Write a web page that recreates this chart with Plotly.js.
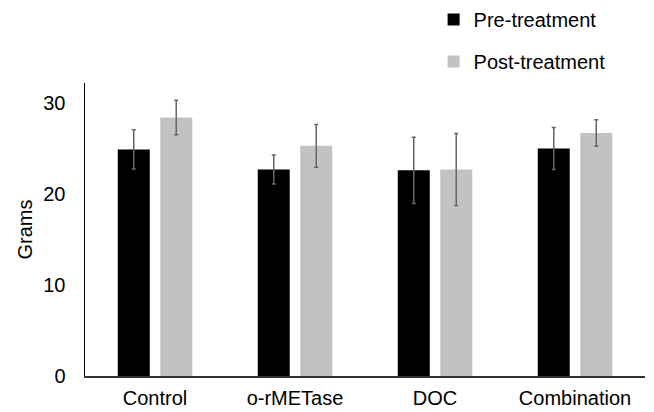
<!DOCTYPE html>
<html>
<head>
<meta charset="utf-8">
<script src="https://cdn.plot.ly/plotly-3.0.1.min.js"></script>
<style>html,body{margin:0;padding:0;background:#fff;}#chart{width:654px;height:412px;}</style>
</head>
<body>
<div id="chart"></div>
<script>
const categories = ["Control", "o-rMETase", "DOC", "Combination"];
const preValues = [24.9, 22.7, 22.6, 25.0];
const preErrors = [2.15, 1.6, 3.65, 2.3];
const postValues = [28.4, 25.3, 22.7, 26.7];
const postErrors = [1.9, 2.35, 3.95, 1.45];
const seriesNames = ["Pre-treatment", "Post-treatment"];
const yTicks = [0, 10, 20, 30];

const font = "Liberation Sans, Arial, Helvetica, sans-serif";

const traces = [
  {
    type: "bar", name: seriesNames[0], x: categories, y: preValues,
    legendgroup: "a",
    marker: {color: "#000000", line: {color: "#000000", width: 0}},
    error_y: {type: "data", array: preErrors, visible: true, color: "#666666", thickness: 1.5, width: 2}
  },
  {
    type: "bar", name: seriesNames[1], x: categories, y: postValues,
    legendgroup: "b",
    marker: {color: "#c2c2c2", line: {color: "#c2c2c2", width: 0}},
    error_y: {type: "data", array: postErrors, visible: true, color: "#666666", thickness: 1.5, width: 2}
  }
];

const layout = {
  width: 654, height: 412,
  paper_bgcolor: "#ffffff", plot_bgcolor: "#ffffff",
  margin: {l: 85, r: 9, t: 83, b: 36, autoexpand: false},
  barmode: "group",
  bargap: 0.393,
  bargroupgap: 0.247,
  showlegend: true,
  legend: {
    x: 0.6225, xanchor: "left", y: 1.283, yanchor: "top",
    traceorder: "grouped", tracegroupgap: 13,
    font: {family: font, size: 20, color: "#000"},
    bgcolor: "rgba(0,0,0,0)"
  },
  font: {family: font, size: 20, color: "#000"},
  xaxis: {
    type: "category", range: [-0.5, 3.5],
    showline: true, linecolor: "#333333", linewidth: 2,
    ticks: "", showgrid: false, zeroline: false,
    tickfont: {family: font, size: 20, color: "#000"},
    ticklabelstandoff: 3
  },
  yaxis: {
    range: [0, 32.2],
    tickvals: yTicks, ticktext: yTicks.map(String),
    showline: true, linecolor: "#000000", linewidth: 1.5,
    ticks: "", showgrid: false, zeroline: false,
    tickfont: {family: font, size: 20, color: "#000"},
    ticklabelstandoff: 14,
    title: {text: "Grams", font: {family: font, size: 20, color: "#000"}, standoff: 5}
  }
};

Plotly.newPlot("chart", traces, layout, {displayModeBar: false, staticPlot: true});
</script>
</body>
</html>
